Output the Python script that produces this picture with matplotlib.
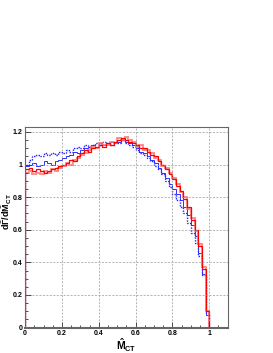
import numpy as np
import matplotlib
matplotlib.use('Agg')
import matplotlib.pyplot as plt
from matplotlib.ticker import MultipleLocator

plt.rcParams['font.family'] = ['Liberation Sans', 'DejaVu Sans']
plt.rcParams['mathtext.fontset'] = 'custom'
plt.rcParams['mathtext.rm'] = 'Liberation Sans'
plt.rcParams['mathtext.bf'] = 'Liberation Sans:bold'
plt.rcParams['mathtext.it'] = 'Liberation Sans:italic'

# 50 bins of width 0.02 on [0, 1], one empty bin out to 1.1
edges = np.append(np.linspace(0, 1, 51), 1.1)

red = [0.97, 0.98, 0.96, 0.97, 0.96, 0.95, 0.96, 0.97, 0.98, 0.99,
       1.00, 1.01, 1.03, 1.02, 1.05, 1.07, 1.09, 1.08, 1.10, 1.11,
       1.12, 1.11, 1.13, 1.12, 1.14, 1.15, 1.16, 1.15, 1.14, 1.13,
       1.12, 1.10, 1.10, 1.08, 1.06, 1.05, 1.02, 1.00, 0.97, 0.94,
       0.91, 0.87, 0.84, 0.79, 0.74, 0.66, 0.60, 0.50, 0.36, 0.10, 0.0]

red_light = [0.95, 0.96, 0.94, 0.95, 0.94, 0.96, 0.95, 0.97, 0.96, 0.98,
             0.99, 1.01, 1.00, 1.03, 1.04, 1.06, 1.07, 1.09, 1.11, 1.10,
             1.13, 1.12, 1.12, 1.14, 1.13, 1.16, 1.15, 1.17, 1.15, 1.14,
             1.11, 1.12, 1.09, 1.09, 1.07, 1.04, 1.03, 0.99, 0.98, 0.95,
             0.92, 0.88, 0.83, 0.80, 0.73, 0.67, 0.59, 0.51, 0.37, 0.10, 0.0]

blue = [0.99, 1.00, 1.01, 0.99, 1.00, 1.02, 1.01, 1.00, 1.02, 1.03,
        1.04, 1.05, 1.06, 1.08, 1.07, 1.09, 1.10, 1.11, 1.12, 1.11,
        1.13, 1.12, 1.13, 1.14, 1.13, 1.14, 1.15, 1.14, 1.13, 1.12,
        1.10, 1.08, 1.07, 1.05, 1.03, 1.01, 0.98, 0.95, 0.92, 0.88,
        0.85, 0.82, 0.78, 0.74, 0.69, 0.63, 0.56, 0.46, 0.33, 0.08, 0.0]

blue_dot = [1.00, 1.03, 1.05, 1.06, 1.05, 1.07, 1.06, 1.07, 1.06, 1.08,
            1.07, 1.09, 1.08, 1.10, 1.11, 1.10, 1.12, 1.11, 1.12, 1.13,
            1.12, 1.14, 1.13, 1.12, 1.14, 1.13, 1.15, 1.13, 1.12, 1.11,
            1.09, 1.07, 1.06, 1.04, 1.02, 0.99, 0.97, 0.94, 0.90, 0.86,
            0.82, 0.78, 0.74, 0.70, 0.64, 0.58, 0.52, 0.44, 0.32, 0.09, 0.0]

fig = plt.figure(figsize=(2.73, 3.53), dpi=100)
ax = fig.add_axes([0.092, 0.072, 0.742, 0.568])

ax.stairs(blue_dot, edges, color='#2020ff', lw=1.0, ls=(0, (1, 1)))
ax.stairs(blue, edges, color='#3030ff', lw=0.7)
ax.stairs(red_light, edges, color='#ff7070', lw=1.4, alpha=0.8)
ax.stairs(red, edges, color='#ff0000', lw=0.9)

ax.set_xlim(0, 1.1)
ax.set_ylim(0, 1.23)
ax.xaxis.set_minor_locator(MultipleLocator(0.05))
ax.yaxis.set_minor_locator(MultipleLocator(0.05))
ax.set_xticks([0, 0.2, 0.4, 0.6, 0.8, 1.0])
ax.set_xticklabels(['0', '0.2', '0.4', '0.6', '0.8', '1'])
ax.set_yticks([0, 0.2, 0.4, 0.6, 0.8, 1.0, 1.2])
ax.set_yticklabels(['0', '0.2', '0.4', '0.6', '0.8', '1', '1.2'])
ax.tick_params(which='both', direction='in', labelsize=5, width=0.6, colors='#333333')
ax.tick_params(which='major', length=4, pad=2)
ax.tick_params(which='minor', length=2)
ax.tick_params(axis='x', which='major', pad=1.5)
for lab in ax.get_xticklabels() + ax.get_yticklabels():
    lab.set_fontweight('bold')
    lab.set_color('black')

ax.grid(True, which='major', ls=(0, (3, 2)), color='#999999', lw=0.5)
for s in ax.spines.values():
    s.set_color('#666666')
    s.set_linewidth(0.8)
ax.spines['bottom'].set_linewidth(1.5)

ax.set_xlabel(r'$\mathbf{\hat{M}_{CT}}$', fontsize=7.5, va='top')
ax.xaxis.set_label_coords(0.5, -0.046)
ax.set_ylabel(r'$\mathbf{d\hat{\Gamma}/d\hat{M}_{CT}}$', fontsize=6.5, va='center')
ax.yaxis.set_label_coords(-0.09, 0.58)

fig.savefig('out.png', dpi=100)
